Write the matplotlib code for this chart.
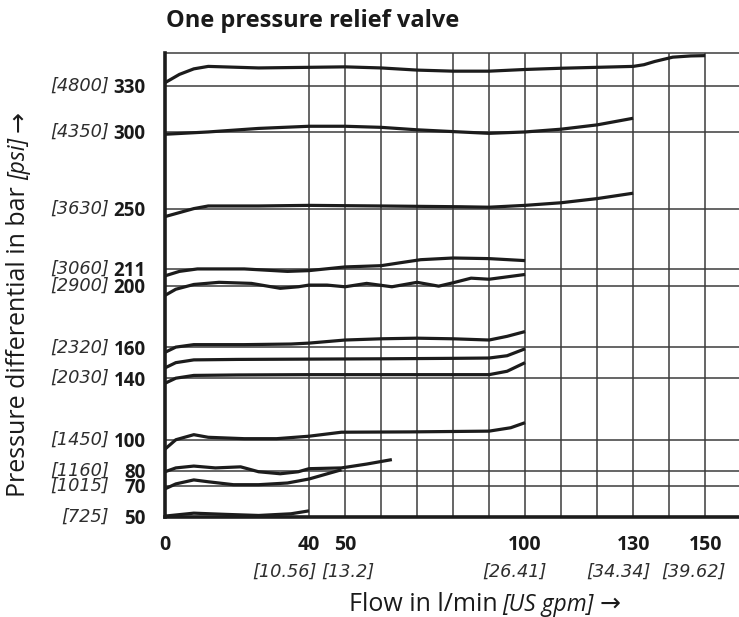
import matplotlib
matplotlib.use("Agg")
import matplotlib.pyplot as plt
from matplotlib.transforms import blended_transform_factory, offset_copy

plt.rcParams['font.family'] = ['Open Sans', 'DejaVu Sans']

# ---------------- data ----------------
bar_ticks = [50, 70, 80, 100, 140, 160, 200, 211, 250, 300, 330]
psi_labels = ['[725]', '[1015]', '[1160]', '[1450]', '[2030]', '[2320]',
              '[2900]', '[3060]', '[3630]', '[4350]', '[4800]']
flow_ticks = [0, 40, 50, 100, 130, 150]
gpm_labels = ['', '[10.56]', '[13.2]', '[26.41]', '[34.34]', '[39.62]']
grid_flow = [40, 50, 60, 70, 80, 90, 100, 110, 120, 130, 140, 150]

flow_330 = [0, 4, 8, 12, 26, 40, 50, 60, 70, 80, 90, 100, 110, 120, 130, 133, 136, 141, 146, 150]
dp_330 = [332, 337.4, 341, 342.6, 341.6, 342, 342.3, 341.6, 340.2, 339.5, 339.5, 340.6,
          341.4, 342, 342.6, 343.7, 345.8, 348.6, 349.4, 349.6]

flow_300 = [0, 12, 26, 40, 50, 60, 70, 82, 90, 100, 110, 120, 130]
dp_300 = [298.5, 300, 302.3, 303.7, 303.7, 303, 301.4, 300, 299.1, 300, 301.8, 304.6, 308.9]

flow_250 = [0, 4, 8, 12, 26, 40, 60, 82, 90, 100, 110, 120, 130]
dp_250 = [245, 247.6, 250.2, 251.9, 251.9, 252.3, 251.9, 251.4, 251.1, 252.3, 254, 256.7, 260.2]

flow_211 = [0, 4, 9, 22, 34, 40, 50, 60, 65, 71, 80, 90, 100]
dp_211 = [206.5, 209.4, 211, 211, 209.4, 209.9, 212.3, 213.1, 214.9, 217, 218.1, 217.7, 216.4]

flow_200 = [0, 3, 8, 15, 24, 32, 37, 40, 45, 50, 56, 63, 70, 76, 80, 85, 90, 100]
dp_200 = [193.8, 197.8, 200.9, 202.3, 201.6, 198.4, 199.4, 200.5, 200.5, 199.4, 201.6,
          199.4, 202.3, 199.8, 202, 205, 204.3, 207.4]

flow_160 = [0, 3, 8, 22, 35, 40, 50, 60, 70, 80, 90, 95, 100]
dp_160 = [156.8, 160.2, 161.8, 161.8, 162.2, 162.8, 164.8, 165.6, 166, 165.6, 164.8, 167.2, 170.3]

flow_150 = [0, 3, 8, 20, 40, 60, 80, 90, 95, 100]
dp_150 = [146.7, 150.1, 151.9, 152.2, 152.4, 152.6, 152.9, 153.1, 154.6, 159.1]

flow_140 = [0, 3, 8, 20, 40, 60, 80, 90, 95, 100]
dp_140 = [136.7, 140, 141.8, 142.1, 142.3, 142.3, 142.3, 142.3, 144.5, 150.1]

flow_100 = [0, 3, 8, 12, 22, 31, 40, 49, 68, 90, 96, 100]
dp_100 = [93.9, 100, 103.3, 101.6, 100.7, 100.7, 102.3, 104.9, 105.1, 105.6, 107.8, 111.1]

flow_80 = [0, 3, 8, 14, 21, 26, 32, 37, 40, 49, 56, 63]
dp_80 = [79.2, 81.7, 82.9, 81.7, 82.4, 79.2, 77.9, 79.2, 81.2, 81.7, 84.2, 87.1]

flow_70 = [0, 3, 8, 12, 19, 26, 34, 40, 49]
dp_70 = [68.1, 71.3, 73.9, 72.7, 70.8, 70.8, 71.9, 74.5, 80.5]

flow_50 = [0, 8, 17, 26, 35, 40]
dp_50 = [50.4, 52.3, 51.5, 50.8, 51.9, 53.8]

curves = [(flow_330, dp_330), (flow_300, dp_300), (flow_250, dp_250),
          (flow_211, dp_211), (flow_200, dp_200), (flow_160, dp_160),
          (flow_150, dp_150), (flow_140, dp_140), (flow_100, dp_100),
          (flow_80, dp_80), (flow_70, dp_70), (flow_50, dp_50)]

# ---------------- figure ----------------
W, H = 739, 617
fig = plt.figure(figsize=(W / 100, H / 100), dpi=100)
ax = fig.add_axes([165 / W, (H - 516.7) / H, (W - 165) / W, (516.7 - 52.7) / H])
ax.set_xlim(0, 159.4)
ax.set_ylim(50, 351.5)

grid_col = '#3c3c3c'
for gx in grid_flow:
    ax.axvline(gx, color=grid_col, lw=1.1, zorder=1)
for gy in bar_ticks:
    ax.axhline(gy, color=grid_col, lw=1.1, zorder=1)

for fx, fy in curves:
    ax.plot(fx, fy, color='#1c1c1c', lw=2.3, solid_capstyle='butt',
            solid_joinstyle='round', zorder=3, clip_on=False)

for side in ['left', 'bottom']:
    ax.spines[side].set_linewidth(2.6)
    ax.spines[side].set_color('#1c1c1c')
    ax.spines[side].set_zorder(4)
ax.spines['top'].set_linewidth(1.1)
ax.spines['top'].set_color(grid_col)
ax.spines['right'].set_visible(False)

# y tick labels (bold bar values)
ax.set_yticks(bar_ticks)
ax.set_yticklabels([str(v) for v in bar_ticks], fontweight='bold', fontsize=13.5, color='#1a1a1a')
ax.tick_params(axis='y', length=0, pad=14)
# x tick labels (bold flow values)
ax.set_xticks(flow_ticks)
ax.set_xticklabels([str(v) for v in flow_ticks], fontweight='bold', fontsize=14, color='#1a1a1a')
ax.tick_params(axis='x', length=0, pad=13)

ital = dict(family=['DejaVu Sans'], fontstyle='oblique', fontsize=12.8, color='#2e2e2e')

# psi labels (italic)
ty = blended_transform_factory(ax.transAxes, ax.transData)
for v, lab in zip(bar_ticks, psi_labels):
    ax.text((109 - 165) / (W - 165), v, lab, transform=ty, ha='right', va='center', **ital)

# gpm labels (italic)
gpm_dx = [0, -25, 3, -11, -15, -12]
tx = blended_transform_factory(ax.transData, ax.transAxes)
for v, lab, dx in zip(flow_ticks, gpm_labels, gpm_dx):
    if lab:
        ax.text(v, 0, lab, transform=offset_copy(tx, fig=fig, x=dx * 0.72, y=-55 * 0.72, units='points'),
                ha='center', va='center', **ital)

fig.text(166 / W, 1 - 27 / H, 'One pressure relief valve', fontsize=17, fontweight='bold',
         color='#1a1a1a', ha='left', va='baseline')

# ---- axis labels with mixed styles ----
renderer = fig.canvas.get_renderer()
reg = dict(fontsize=18, color='#1a1a1a')
itl = dict(fontsize=16.5, color='#1a1a1a', fontstyle='italic')


def rich(pieces, cx, cy, vertical=False):
    widths = []
    for s, kw, gap in pieces:
        t = fig.text(0, 0, s, **kw)
        widths.append(t.get_window_extent(renderer).width)
        t.remove()
    total = sum(widths) + sum(p[2] for p in pieces[:-1])
    if not vertical:
        pos = cx - total / 2
        for (s, kw, gap), w in zip(pieces, widths):
            fig.text(pos / W, 1 - cy / H, s, ha='left', va='baseline', **kw)
            pos += w + gap
    else:
        pos = (H - cy) - total / 2
        for (s, kw, gap), w in zip(pieces, widths):
            fig.text(cx / W, pos / H, s, ha='left', va='baseline', rotation=90,
                     rotation_mode='anchor', **kw)
            pos += w + gap


rich([('Flow in l/min', reg, 5), ('[US gpm]', itl, 6), ('→', reg, 0)], 485, 611)
rich([('Pressure differential in bar', reg, 6), ('[psi]', itl, 6), ('→', reg, 0)], 25, 304,
     vertical=True)

fig.savefig('out.png', dpi=100)
